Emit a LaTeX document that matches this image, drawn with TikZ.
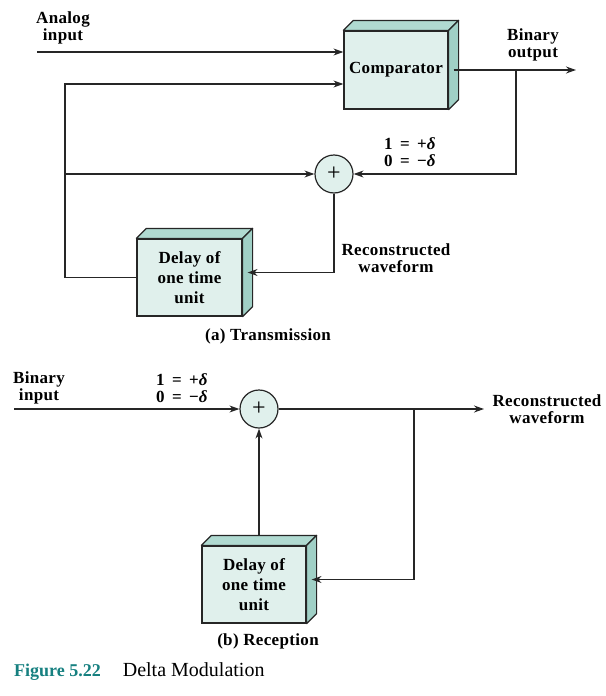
\documentclass[tikz,border=0pt]{standalone}
\usepackage{fontspec}
\setmainfont{Liberation Serif}
\newfontfamily\lblfont[LetterSpace=2]{Liberation Serif}
\usepackage{xcolor}
\usepackage{tikz}
\usetikzlibrary{calc,arrows.meta}
\definecolor{facefront}{RGB}{224,240,236}
\definecolor{faceside}{RGB}{160,208,198}
\definecolor{facetop}{RGB}{176,218,209}
\definecolor{figteal}{RGB}{22,128,128}
\tikzset{>={Stealth[length=10pt,width=7pt]}}
\tikzset{
  blockbox/.style={draw=black!85,line width=1.2pt,fill=facefront,align=center,
    font=\lblfont\bfseries\fontsize{17}{20}\selectfont,inner sep=0pt},
  sumnode/.style={circle,draw=black!85,line width=1.2pt,fill=facefront,minimum size=38pt,
    inner sep=0pt,font=\fontsize{24}{24}\selectfont},
  lbl/.style={align=center,font=\lblfont\bfseries\fontsize{17}{17.5}\selectfont},
  wire/.style={line width=1.3pt,draw=black!85}
}
% top and side faces of a block
\newcommand{\blockfaces}[1]{%
  \filldraw[draw=black!85,line width=1.2pt,fill=facetop,line join=round]
    (#1.north west) -- ([shift={(10,-10)}]#1.north west) -- ([shift={(10,-10)}]#1.north east) -- (#1.north east) -- cycle;
  \filldraw[draw=black!85,line width=1.2pt,fill=faceside,line join=round]
    (#1.north east) -- ([shift={(10,-10)}]#1.north east) -- ([shift={(10,-10)}]#1.south east) -- (#1.south east) -- cycle;
}

\begin{document}
\begin{tikzpicture}[x=1pt,y=-1pt]
  \useasboundingbox (0,0) rectangle (605,696);
  % (a) transmission
  \node[blockbox,minimum width=104pt,minimum height=78pt] (cmp) at (396,70) {Comparator};
  \blockfaces{cmp}
  \node[blockbox,minimum width=105pt,minimum height=77pt] (dlyA) at (189.5,277.5) {Delay of\\one time\\unit};
  \blockfaces{dlyA}
  \node[sumnode] (sumA) at (334,174) {+};

  \coordinate (ain) at (37,52);
  \coordinate (lx) at (65,84);
  \coordinate (bout) at (576,70);
  \coordinate (br) at (516,70);
  \draw[wire,->] (ain) -- (ain -| cmp.west);
  \draw[wire,->] (dlyA.west) -| (lx) -- (lx -| cmp.west);
  \draw[wire,->] (lx |- sumA) -- (sumA.west);
  \draw[wire,->] ([xshift=5]cmp.east) -- (bout);
  \draw[wire,->] (br) |- (sumA.east);
  \draw[wire,->] (sumA.south) |- ([shift={(5,-5)}]dlyA.east);

  \node[lbl] (lAin) at (63,28) {Analog\\input};
  \node[lbl] (lBout) at (533,45) {Binary\\output};
  \node[lbl] (lDa) at (410,152) {1 \,=\, +\textit{δ}\\0 \,=\, −\textit{δ}};
  \node[lbl] (lRa) at (396,258) {Reconstructed\\waveform};
  \node[lbl] (capA) at (268,336) {(a) Transmission};

  % (b) reception
  \node[blockbox,minimum width=104pt,minimum height=77pt] (dlyB) at (254,584.5) {Delay of\\one time\\unit};
  \blockfaces{dlyB}
  \node[sumnode] (sumB) at (259,409) {+};

  \coordinate (bin) at (14,409);
  \coordinate (rout) at (484,409);
  \coordinate (br2) at (414,409);
  \draw[wire,->] (bin) -- (sumB.west);
  \draw[wire,->] (sumB.east) -- (rout);
  \draw[wire,->] (br2) |- ([shift={(5,-5)}]dlyB.east);
  \draw[wire,->] ([shift={(5,-10)}]dlyB.north) -- (sumB.south);

  \node[lbl] (lBin) at (39,388) {Binary\\input};
  \node[lbl] (lDb) at (182,388) {1 \,=\, +\textit{δ}\\0 \,=\, −\textit{δ}};
  \node[lbl] (lRb) at (547,409) {Reconstructed\\waveform};
  \node[lbl] (capB) at (268,641) {(b) Reception};

  \node[anchor=base west,inner sep=0pt] (fig) at (14,676)
    {\textcolor{figteal}{\bfseries\fontsize{18}{20}\selectfont Figure 5.22}\hspace{22pt}{\fontsize{20}{22}\selectfont Delta Modulation}};
\end{tikzpicture}
\end{document}
